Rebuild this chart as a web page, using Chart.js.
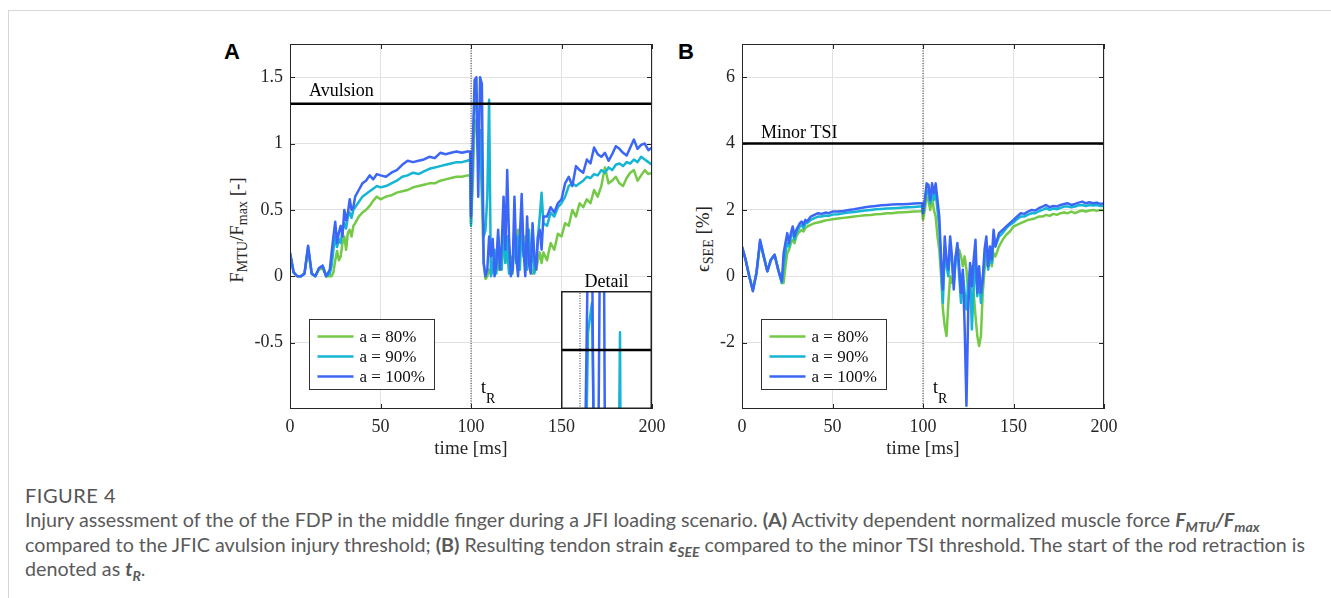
<!DOCTYPE html>
<html>
<head>
<meta charset="utf-8">
<script src="https://cdn.jsdelivr.net/npm/chart.js@4.4.1/dist/chart.umd.min.js"></script>
<style>
  html, body { margin: 0; padding: 0; background: #fff; }
  body { width: 1331px; height: 598px; position: relative; overflow: hidden; }
  .card { position: absolute; left: 8px; top: 10px; right: 0; bottom: 0;
          border-top: 1px solid #d6d6d6; border-left: 1px solid #d6d6d6; }
  canvas { position: absolute; }
  #insetA { z-index: 5; }
  .panel-tag { position: absolute; font: bold 22px "Liberation Sans", Arial, sans-serif; color: #000; line-height: 22px; }
  .ytitle { position: absolute; transform: translate(-50%, -50%) rotate(-90deg); white-space: nowrap;
            font: 19px "Liberation Serif", serif; color: #262626; }
  .ytitle sub { font-size: 14px; vertical-align: -4px; line-height: 0; }
  .fig-no { position: absolute; left: 25px; top: 483px; font: 20px Lato, sans-serif; color: #555; letter-spacing: 0.5px; }
  .caption { position: absolute; left: 25px; top: 508px; font: 19.7px Lato, sans-serif; color: #5a5a5a;
             line-height: 24.5px; white-space: nowrap; }
  .caption sub { font-size: 14px; line-height: 0; }
</style>
</head>
<body>
<div class="card"></div>

<div class="panel-tag" style="left:224px; top:41px;">A</div>
<div class="panel-tag" style="left:678px; top:41px;">B</div>

<div class="ytitle" style="left:237px; top:230px;">F<sub>MTU</sub>/F<sub>max</sub> [-]</div>
<div class="ytitle" style="left:703px; top:239px;">&#1013;<sub>SEE</sub> [%]</div>

<canvas id="chartA" width="470" height="440" style="left:200px; top:30px;"></canvas>
<canvas id="chartB" width="470" height="440" style="left:652px; top:30px;"></canvas>
<canvas id="insetA" width="91" height="118" style="left:561px; top:291px;"></canvas>

<div class="fig-no">FIGURE 4</div>
<div class="caption">
Injury assessment of the of the FDP in the middle finger during a JFI loading scenario. <b>(A)</b> Activity dependent normalized muscle force <b><i>F<sub>MTU</sub>/F<sub>max</sub></i></b><br>
compared to the JFIC avulsion injury threshold; <b>(B)</b> Resulting tendon strain <b><i>&epsilon;<sub>SEE</sub></i></b> compared to the minor TSI threshold. The start of the rod retraction is<br>
denoted as <b><i>t<sub>R</sub></i></b>.
</div>

<script>
// ─── DATA ────────────────────────────────────────────────────
const timeMs = [
    0, 2, 4, 6, 8, 10, 12, 14, 16, 18, 20, 22,
    23, 24, 25, 26, 27, 28, 29, 30, 31, 32, 33, 34, 35, 36,
    38, 40, 42, 44, 46, 48, 50,
    53, 56, 59, 62, 65, 68, 71, 74, 77, 80, 83, 86, 89, 92, 95, 98, 99.5,
    100, 101, 102, 103, 104, 105, 106, 107, 108, 109,
    110, 111, 112, 113, 114, 115, 116, 117, 118, 119,
    120, 121, 122, 123, 124, 125, 126, 127, 128, 129,
    130, 131, 132, 133, 134, 135, 136, 137, 138, 139, 140,
    142, 144, 146, 148, 150, 152, 154, 156, 158, 160, 162, 164, 166, 168, 170,
    172, 174, 176, 178, 180, 182, 184, 186, 188, 190, 192, 194, 196, 198, 200
];

// normalized muscle force F_MTU / F_max
const forceA80 = [
    0.17, 0.03, 0.0, 0.0, 0.02, 0.2, 0.02, 0.0, 0.05, 0.06, 0.0, 0.0,
    0.0, 0.03, 0.12, 0.19, 0.12, 0.15, 0.25, 0.3, 0.2, 0.33, 0.35, 0.3, 0.38, 0.4,
    0.45, 0.48, 0.5, 0.53, 0.57, 0.6, 0.58,
    0.6, 0.61, 0.63, 0.64, 0.65, 0.67, 0.68, 0.69, 0.7, 0.7, 0.72, 0.73, 0.74, 0.75, 0.75, 0.76, 0.76,
    0.4, 0.7, 1.18, 1.15, 0.9, 1.1, 0.6, 0.1, -0.02, 0.0,
    0.05, 0.02, 0.08, 0.05, 0.15, 0.05, 0.2, 0.1, 0.25, 0.1,
    0.2, 0.05, 0.15, 0.02, 0.3, 0.1, 0.35, 0.25, 0.47, 0.2,
    0.3, 0.15, 0.1, 0.05, 0.02, 0.08, 0.05, 0.12, 0.18, 0.1, 0.18,
    0.12, 0.25, 0.2, 0.32, 0.3, 0.4, 0.38, 0.5, 0.45, 0.55, 0.52, 0.58, 0.55, 0.65, 0.6,
    0.68, 0.82, 0.7, 0.72, 0.75, 0.7, 0.68, 0.74, 0.78, 0.8, 0.72, 0.76, 0.8, 0.77, 0.78
];
const forceA90 = [
    0.17, 0.03, 0.0, 0.0, 0.02, 0.22, 0.02, 0.0, 0.06, 0.08, 0.0, 0.02,
    0.08, 0.2, 0.3, 0.22, 0.28, 0.25, 0.35, 0.4, 0.36, 0.45, 0.48, 0.44, 0.5, 0.52,
    0.56, 0.6, 0.62, 0.64, 0.66, 0.68, 0.67,
    0.68, 0.7, 0.72, 0.75, 0.76, 0.78, 0.77, 0.79, 0.81, 0.82, 0.83, 0.84, 0.85, 0.86, 0.86, 0.87, 0.88,
    0.38, 0.9, 1.33, 1.38, 0.9, 1.1, 0.7, 0.3, 0.35, 0.6,
    1.33, 0.0, 0.05, 0.2, 0.02, 0.3, 0.1, 0.05, 0.45, 0.1,
    0.3, 0.02, 0.1, 0.05, 0.35, 0.1, 0.3, 0.05, 0.4, 0.15,
    0.25, 0.05, 0.35, 0.1, 0.2, 0.02, 0.1, 0.3, 0.45, 0.63, 0.4,
    0.38, 0.48, 0.45, 0.52, 0.55, 0.6, 0.68, 0.7, 0.68, 0.7, 0.72, 0.75, 0.74, 0.77, 0.76,
    0.8, 0.78, 0.82, 0.8, 0.84, 0.85, 0.83, 0.86, 0.85, 0.88, 0.86, 0.9, 0.88, 0.86, 0.84
];
const forceA100 = [
    0.18, 0.03, 0.0, 0.0, 0.02, 0.23, 0.02, 0.0, 0.06, 0.08, 0.0, 0.05,
    0.18, 0.3, 0.41, 0.25, 0.33, 0.38, 0.3, 0.5, 0.42, 0.48, 0.58, 0.5, 0.52, 0.6,
    0.65, 0.7, 0.72, 0.76, 0.73, 0.77, 0.76,
    0.75, 0.78, 0.8, 0.84, 0.87, 0.86, 0.87, 0.88, 0.9, 0.89, 0.93, 0.92, 0.93, 0.94, 0.93, 0.94, 0.94,
    0.45, 1.0, 1.48, 1.5, 0.6, 1.5, 1.45, 0.1, 0.0, 0.05,
    0.3, 0.15, 0.28, 0.0, 0.1, 0.35, 0.05, 0.25, 0.6, 0.2,
    0.8, 0.3, 0.0, 0.05, 0.6, 0.15, 0.0, 0.3, 0.62, 0.2,
    0.0, 0.45, 0.1, 0.02, 0.4, 0.15, 0.05, 0.3, 0.35, 0.2, 0.45,
    0.45, 0.52, 0.48, 0.55, 0.58, 0.7, 0.75, 0.68, 0.83, 0.8, 0.78, 0.88, 0.85, 0.97, 0.92,
    0.9, 0.93, 0.87, 0.92, 0.98, 0.96, 0.93, 0.91, 0.97, 1.03, 0.96, 0.99, 1.0, 0.95, 0.97
];

// tendon strain eps_SEE [%]
const strainB80 = [
    0.85, 0.5, 0.0, -0.4, 0.1, 1.0, 0.6, 0.15, 0.5, 0.65, 0.2, -0.2,
    -0.2, 0.3, 0.7, 0.8, 1.0, 1.1, 1.0, 1.2, 1.3, 1.35, 1.4, 1.35, 1.45, 1.5,
    1.55, 1.6, 1.62, 1.65, 1.68, 1.7, 1.72,
    1.74, 1.76, 1.78, 1.8, 1.82, 1.84, 1.85, 1.87, 1.88, 1.9, 1.9, 1.92, 1.93, 1.94, 1.95, 1.96, 1.97,
    1.7, 2.0, 2.4, 2.3, 2.0, 2.4, 2.0, 1.8, 1.2, 0.8,
    0.0, -1.0, -1.5, -1.8, -0.8, 0.0, -0.2, 0.2, 0.6, 0.5,
    0.8, 0.6, 0.3, 0.6, 0.2, -0.5, 0.0, 0.3, -0.5, -1.2,
    -1.8, -2.1, -1.8, -0.5, 0.2, 0.5, 0.3, 0.6, 0.3, 0.7, 0.6,
    0.9, 1.1, 1.25, 1.35, 1.5, 1.55, 1.6, 1.65, 1.7, 1.72, 1.75, 1.8, 1.8, 1.85, 1.82,
    1.88, 1.85, 1.9, 1.92, 1.9, 1.95, 1.9, 1.95, 1.98, 1.95, 1.98, 2.0, 1.97, 2.0, 2.0
];
const strainB90 = [
    0.88, 0.5, 0.0, -0.42, 0.1, 1.05, 0.6, 0.15, 0.5, 0.65, 0.2, -0.2,
    0.3, 0.7, 1.0, 0.9, 1.2, 1.3, 1.1, 1.3, 1.4, 1.5, 1.55, 1.45, 1.6, 1.6,
    1.7, 1.75, 1.8, 1.8, 1.83, 1.82, 1.86,
    1.87, 1.9, 1.92, 1.94, 1.96, 1.98, 2.0, 2.02, 2.03, 2.04, 2.05, 2.06, 2.07, 2.08, 2.09, 2.1, 2.1,
    1.9, 2.2, 2.6, 2.5, 2.2, 2.6, 2.3, 2.5, 2.0, 1.5,
    0.3, -0.8, 0.8, 0.3, 0.0, 1.0, 0.4, -0.2, 0.5, 0.8,
    0.0, -0.8, 0.1, -0.5, -1.0, -0.2, 0.2, -1.6, -0.3, 0.5,
    -0.6, 0.0, -0.8, -0.1, 0.5, 0.9, 0.2, 0.7, 0.4, 1.1, 0.9,
    1.2, 1.3, 1.45, 1.55, 1.62, 1.72, 1.8, 1.8, 1.86, 1.9, 1.9, 1.96, 2.0, 2.05, 2.0,
    2.04, 2.02, 2.06, 2.1, 2.1, 2.08, 2.1, 2.14, 2.15, 2.12, 2.15, 2.13, 2.15, 2.12, 2.12
];
const strainB100 = [
    0.9, 0.5, 0.0, -0.45, 0.1, 1.1, 0.6, 0.15, 0.5, 0.65, 0.2, -0.15,
    0.7, 1.0, 1.3, 1.0, 1.3, 1.5, 1.2, 1.4, 1.5, 1.6, 1.65, 1.55, 1.7, 1.65,
    1.8, 1.85, 1.9, 1.88, 1.92, 1.9, 1.95,
    1.95, 1.97, 2.0, 2.02, 2.05, 2.08, 2.1, 2.12, 2.14, 2.15, 2.16, 2.17, 2.17, 2.18, 2.19, 2.2, 2.2,
    1.9, 2.3, 2.8, 2.75, 2.3, 2.8, 2.5, 2.8, 2.3, 1.8,
    0.5, -0.4, 1.2, 0.5, 0.2, 1.2, 0.6, -0.4, 0.6, 1.0,
    0.3, -0.5, 0.2, -1.5, -3.9, -1.0, 0.4, -0.3, 0.5, 1.1,
    -0.5, 0.3, -0.5, -0.1, 0.8, 1.2, 0.3, 0.9, 0.5, 1.4, 0.9,
    1.3, 1.4, 1.5, 1.6, 1.7, 1.8, 1.9, 1.88, 1.95, 2.0, 1.98, 2.05, 2.1, 2.15, 2.08,
    2.12, 2.1, 2.15, 2.18, 2.2, 2.15, 2.18, 2.22, 2.25, 2.2, 2.23, 2.2, 2.22, 2.18, 2.2
];

const xTicks       = [0, 50, 100, 150, 200];
const forceTicks   = [-0.5, 0, 0.5, 1, 1.5];
const strainTicks  = [-2, 0, 2, 4, 6];
const seriesLabels = ['a = 80%', 'a = 90%', 'a = 100%'];
const seriesColors = ['#74c947', '#15b5d3', '#3b66f6'];

const avulsionLimit   = 1.3;   // JFIC avulsion threshold
const minorTsiLimit   = 4;     // minor TSI strain threshold [%]
const retractionStart = 100;   // t_R [ms]

// ─── HELPERS ─────────────────────────────────────────────────
const SERIF = '"Liberation Serif", "Times New Roman", serif';
const INK   = '#262626';
const pts   = vals => vals.map((v, i) => ({ x: timeMs[i], y: v }));

function buildDatasets(series, limit, yMin, yMax) {
    const lines = series.map((vals, i) => ({
        label: seriesLabels[i],
        data: pts(vals),
        borderColor: seriesColors[i],
        borderWidth: 2.5,
        borderJoinStyle: 'round',
        order: 4 - i              // blue drawn on top, green at the bottom
    }));
    return [
        { data: [{ x: 0, y: limit }, { x: 200, y: limit }], borderColor: '#000', borderWidth: 2.5, order: 0 },
        { data: [{ x: retractionStart, y: yMin }, { x: retractionStart, y: yMax }],
          borderColor: '#333', borderWidth: 1, borderDash: [1, 1.5], order: 1 },
        ...lines
    ];
}

// box, inward ticks, notes and legend drawn over the plot
function framePlugin(cfg) {
    return {
        id: 'frame',
        afterDraw(chart) {
            const { ctx, chartArea: a, scales: { x, y } } = chart;
            ctx.save();
            ctx.strokeStyle = INK;
            ctx.lineWidth = 1;
            ctx.beginPath();
            xTicks.forEach(v => {
                const px = Math.round(x.getPixelForValue(v)) + 0.5;
                ctx.moveTo(px, a.bottom); ctx.lineTo(px, a.bottom - 5);
                ctx.moveTo(px, a.top);    ctx.lineTo(px, a.top + 5);
            });
            cfg.yTicks.forEach(v => {
                const py = Math.round(y.getPixelForValue(v)) + 0.5;
                ctx.moveTo(a.left, py);  ctx.lineTo(a.left + 5, py);
                ctx.moveTo(a.right, py); ctx.lineTo(a.right - 5, py);
            });
            ctx.stroke();
            ctx.strokeRect(Math.round(a.left) + 0.5, Math.round(a.top) + 0.5,
                           Math.round(a.width) - 1, Math.round(a.height) - 1);

            // threshold label
            ctx.fillStyle = '#000';
            ctx.textAlign = 'left';
            ctx.textBaseline = 'alphabetic';
            ctx.font = '18px ' + SERIF;
            ctx.fillText(cfg.limitText, a.left + 19, y.getPixelForValue(cfg.limit) - cfg.limitGap);

            // t_R
            const tx = x.getPixelForValue(retractionStart) + 10;
            ctx.fillText('t', tx, a.bottom - 16);
            const tw = ctx.measureText('t').width;
            ctx.font = '14px ' + SERIF;
            ctx.fillText('R', tx + tw, a.bottom - 6);

            // legend
            const lx = a.left + 19.5, ly = a.bottom - 89.5;
            ctx.fillStyle = '#fff';
            ctx.fillRect(lx, ly, 125, 70);
            ctx.strokeStyle = '#333';
            ctx.lineWidth = 1;
            ctx.strokeRect(lx, ly, 125, 70);
            ctx.font = '17px ' + SERIF;
            ctx.textBaseline = 'middle';
            seriesLabels.forEach((lab, i) => {
                const ry = ly + 17 + i * 20;
                ctx.strokeStyle = seriesColors[i];
                ctx.lineWidth = 2.5;
                ctx.beginPath();
                ctx.moveTo(lx + 8, ry); ctx.lineTo(lx + 44, ry);
                ctx.stroke();
                ctx.fillStyle = '#111';
                ctx.fillText(lab, lx + 50, ry + 1);
            });

            if (cfg.detail) {
                ctx.textAlign = 'center';
                ctx.textBaseline = 'alphabetic';
                ctx.font = '18px ' + SERIF;
                ctx.fillStyle = '#000';
                ctx.fillText('Detail', a.right - 45.5, a.bottom - 122);
            }
            ctx.restore();
        }
    };
}

function makePanel(id, series, cfg) {
    const tickFont = { family: SERIF, size: 18 };
    return new Chart(document.getElementById(id), {
        type: 'line',
        data: { datasets: buildDatasets(series, cfg.limit, cfg.yMin, cfg.yMax) },
        options: {
            responsive: false,
            animation: false,
            devicePixelRatio: 1,
            layout: { padding: { left: 0, top: 14, right: 18, bottom: 0 } },
            elements: { point: { radius: 0 }, line: { tension: 0, fill: false } },
            plugins: { legend: { display: false }, tooltip: { enabled: false } },
            scales: {
                x: {
                    type: 'linear', min: 0, max: 200,
                    afterBuildTicks: s => { s.ticks = xTicks.map(v => ({ value: v })); },
                    afterFit: s => { s.height = 61; s.paddingLeft = 0; s.paddingRight = 0; },
                    grid: { color: '#e2e2e2', drawTicks: false },
                    border: { display: false },
                    ticks: { padding: 7, font: tickFont, color: INK, maxRotation: 0, callback: v => String(v) },
                    title: { display: true, text: 'time [ms]', font: { family: SERIF, size: 19 }, color: INK,
                             padding: { top: 2, bottom: 10 } }
                },
                y: {
                    type: 'linear', min: cfg.yMin, max: cfg.yMax,
                    afterBuildTicks: s => { s.ticks = cfg.yTicks.map(v => ({ value: v })); },
                    afterFit: s => { s.width = 90; s.paddingTop = 0; s.paddingBottom = 0; },
                    grid: { color: '#e2e2e2', drawTicks: false },
                    border: { display: false },
                    ticks: { padding: 7, font: tickFont, color: INK, callback: v => String(v) }
                }
            }
        },
        plugins: [framePlugin(cfg)]
    });
}

// ─── CHARTS ──────────────────────────────────────────────────
makePanel('chartA', [forceA80, forceA90, forceA100], {
    yMin: -1, yMax: 1.75, yTicks: forceTicks,
    limit: avulsionLimit, limitText: 'Avulsion', limitGap: 8, detail: true
});

makePanel('chartB', [strainB80, strainB90, strainB100], {
    yMin: -4, yMax: 7, yTicks: strainTicks,
    limit: minorTsiLimit, limitText: 'Minor TSI', limitGap: 6, detail: false
});

// detail inset: zoom around the avulsion threshold right after t_R
new Chart(document.getElementById('insetA'), {
    type: 'line',
    data: { datasets: buildDatasets([forceA80, forceA90, forceA100], avulsionLimit, 1.2, 1.4) },
    options: {
        responsive: false,
        animation: false,
        devicePixelRatio: 1,
        layout: { padding: 0 },
        elements: { point: { radius: 0 }, line: { tension: 0, fill: false } },
        plugins: { legend: { display: false }, tooltip: { enabled: false } },
        scales: {
            x: { type: 'linear', min: 95.25, max: 118, display: false },
            y: { type: 'linear', min: 1.2, max: 1.4, display: false }
        }
    },
    plugins: [{
        id: 'insetFrame',
        beforeDraw(chart) {
            const { ctx, width, height } = chart;
            ctx.save();
            ctx.fillStyle = '#fff';
            ctx.fillRect(0, 0, width, height);
            ctx.restore();
        },
        afterDraw(chart) {
            const { ctx, width, height } = chart;
            ctx.save();
            ctx.strokeStyle = '#222';
            ctx.lineWidth = 1.5;
            ctx.strokeRect(0.75, 0.75, width - 1.5, height - 1.5);
            ctx.restore();
        }
    }]
});
</script>
</body>
</html>
